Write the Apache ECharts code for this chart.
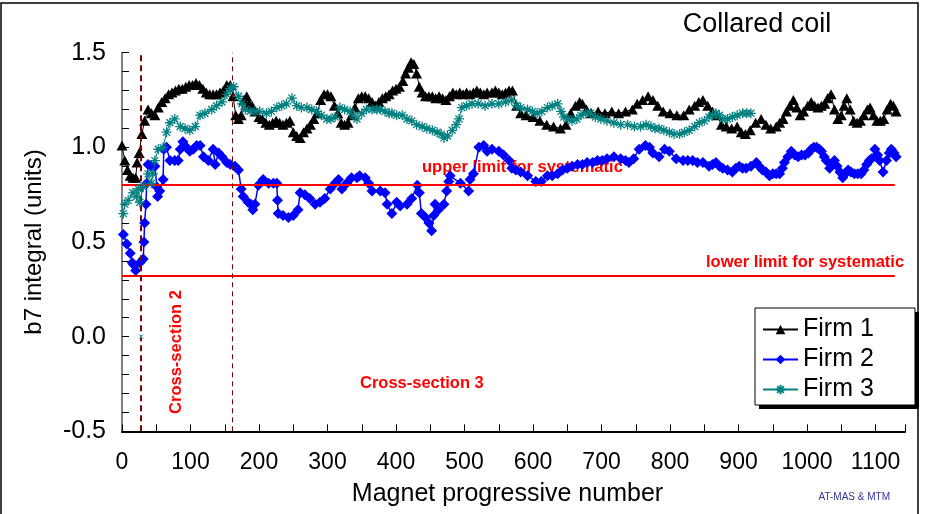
<!DOCTYPE html>
<html><head><meta charset="utf-8">
<script src="https://cdn.jsdelivr.net/npm/echarts@6/dist/echarts.min.js"></script>
<style>html,body{margin:0;padding:0;background:#fff}#c{width:925px;height:514px}</style>
</head><body><div id="c"></div>
<script>
// ---- data (magnet number, b7 integral) ----
const firm1 = [[0,1.01],[4,0.93],[8,0.88],[12,0.85],[16,0.84],[20,0.84],[22,0.92],[25,0.97],[29,1.07],[33,1.14],[38,1.20],[43,1.18],[48,1.17],[53,1.21],[58,1.24],[63,1.26],[68,1.28],[73,1.29],[78,1.30],[83,1.31],[88,1.31],[93,1.32],[98,1.33],[103,1.33],[108,1.34],[113,1.33],[118,1.31],[123,1.29],[128,1.28],[133,1.28],[138,1.28],[143,1.29],[148,1.30],[153,1.33],[158,1.33],[162,1.27],[166,1.17],[170,1.15],[174,1.17],[178,1.25],[182,1.27],[186,1.23],[190,1.22],[195,1.19],[200,1.16],[205,1.15],[210,1.13],[215,1.12],[220,1.13],[225,1.14],[230,1.13],[235,1.12],[240,1.13],[245,1.14],[250,1.08],[255,1.06],[260,1.05],[265,1.08],[270,1.10],[275,1.12],[280,1.15],[285,1.18],[290,1.25],[295,1.28],[300,1.28],[305,1.27],[310,1.22],[315,1.18],[320,1.13],[325,1.12],[330,1.13],[335,1.17],[340,1.21],[345,1.26],[350,1.27],[355,1.27],[360,1.26],[365,1.24],[370,1.22],[375,1.24],[380,1.26],[385,1.27],[390,1.28],[395,1.30],[400,1.31],[405,1.32],[410,1.35],[414,1.39],[418,1.42],[422,1.45],[426,1.44],[430,1.39],[434,1.32],[438,1.29],[443,1.27],[448,1.27],[453,1.27],[458,1.26],[463,1.27],[468,1.26],[473,1.25],[478,1.27],[483,1.29],[488,1.28],[493,1.29],[498,1.28],[503,1.29],[508,1.28],[513,1.29],[518,1.30],[523,1.29],[528,1.28],[533,1.29],[540,1.29],[545,1.30],[550,1.29],[555,1.28],[560,1.29],[565,1.30],[570,1.30],[576,1.22],[582,1.18],[590,1.17],[600,1.16],[610,1.14],[620,1.12],[630,1.11],[640,1.10],[648,1.12],[655,1.18],[662,1.22],[668,1.24],[672,1.23],[678,1.20],[685,1.18],[695,1.19],[705,1.18],[715,1.19],[725,1.18],[735,1.19],[745,1.20],[752,1.23],[760,1.25],[768,1.27],[775,1.25],[782,1.22],[790,1.19],[800,1.18],[810,1.17],[820,1.17],[828,1.20],[836,1.22],[842,1.24],[848,1.25],[855,1.22],[862,1.19],[868,1.17],[875,1.12],[882,1.11],[890,1.10],[898,1.11],[904,1.08],[910,1.07],[917,1.09],[925,1.13],[933,1.15],[940,1.12],[947,1.10],[955,1.11],[960,1.13],[965,1.15],[970,1.19],[975,1.22],[980,1.25],[985,1.21],[990,1.17],[995,1.19],[1001,1.22],[1006,1.24],[1011,1.22],[1016,1.21],[1021,1.22],[1026,1.23],[1030,1.26],[1035,1.28],[1040,1.20],[1045,1.15],[1050,1.17],[1054,1.22],[1058,1.26],[1063,1.20],[1068,1.14],[1073,1.13],[1078,1.14],[1083,1.17],[1088,1.20],[1092,1.21],[1097,1.17],[1102,1.14],[1107,1.14],[1112,1.15],[1117,1.20],[1122,1.23],[1126,1.22],[1130,1.19]];
const firm2 = [[2,0.54],[7,0.49],[12,0.44],[15,0.39],[17,0.38],[20,0.35],[26,0.39],[31,0.41],[32,0.50],[33,0.60],[35,0.70],[36,0.81],[38,0.91],[43,0.90],[48,0.90],[51,0.79],[52,0.74],[55,0.77],[60,0.83],[61,0.99],[65,1.00],[70,0.93],[77,0.93],[82,0.93],[85,0.99],[89,1.03],[94,1.00],[99,0.98],[104,0.99],[109,1.01],[114,1.01],[119,0.95],[126,0.93],[133,0.99],[136,0.91],[141,0.97],[146,0.95],[153,0.92],[158,0.91],[165,0.90],[170,0.88],[174,0.78],[177,0.74],[184,0.71],[188,0.70],[191,0.67],[194,0.70],[199,0.80],[206,0.83],[214,0.81],[221,0.81],[226,0.81],[227,0.72],[228,0.65],[235,0.64],[243,0.63],[250,0.64],[257,0.67],[260,0.76],[267,0.75],[274,0.73],[282,0.70],[289,0.71],[296,0.73],[304,0.78],[311,0.81],[316,0.83],[321,0.78],[328,0.81],[335,0.84],[343,0.84],[347,0.85],[355,0.84],[360,0.81],[365,0.77],[377,0.77],[384,0.76],[387,0.70],[394,0.65],[401,0.71],[406,0.69],[416,0.70],[423,0.73],[431,0.80],[434,0.76],[437,0.65],[443,0.63],[448,0.60],[452,0.56],[455,0.64],[457,0.70],[462,0.67],[470,0.70],[474,0.77],[477,0.82],[479,0.85],[494,0.81],[506,0.77],[508,0.83],[513,0.86],[521,1.00],[528,1.01],[533,0.98],[540,0.99],[550,0.98],[557,0.96],[565,0.93],[569,0.89],[575,0.88],[582,0.87],[592,0.85],[604,0.82],[612,0.82],[621,0.85],[628,0.85],[636,0.86],[643,0.88],[650,0.89],[657,0.90],[665,0.91],[672,0.91],[679,0.92],[687,0.92],[694,0.93],[701,0.93],[708,0.94],[718,0.95],[728,0.94],[735,0.93],[740,0.92],[747,0.94],[755,0.99],[764,1.01],[770,1.00],[775,0.97],[784,0.95],[792,0.99],[799,0.98],[809,0.94],[819,0.93],[826,0.93],[833,0.93],[840,0.92],[848,0.92],[857,0.90],[862,0.91],[867,0.92],[872,0.90],[877,0.89],[884,0.88],[891,0.87],[896,0.89],[901,0.90],[906,0.89],[911,0.89],[918,0.90],[926,0.92],[930,0.90],[935,0.88],[940,0.87],[945,0.85],[950,0.86],[955,0.86],[960,0.86],[964,0.89],[967,0.92],[972,0.95],[977,0.98],[982,0.96],[987,0.95],[992,0.96],[997,0.96],[1002,0.97],[1006,0.99],[1010,1.00],[1014,1.00],[1018,0.99],[1021,0.98],[1025,0.95],[1028,0.93],[1033,0.89],[1036,0.91],[1040,0.93],[1044,0.90],[1048,0.87],[1052,0.84],[1056,0.86],[1060,0.88],[1064,0.87],[1069,0.86],[1074,0.86],[1079,0.86],[1083,0.88],[1087,0.91],[1091,0.93],[1094,0.94],[1099,0.99],[1103,0.96],[1106,0.93],[1111,0.87],[1116,0.93],[1120,0.97],[1123,0.99],[1127,0.97],[1130,0.95]];
const firm3 = [[2,0.65],[4,0.70],[9,0.72],[16,0.76],[21,0.74],[24,0.78],[26,0.71],[31,0.79],[38,0.86],[43,0.81],[45,0.86],[48,0.93],[53,0.99],[60,1.00],[65,1.08],[70,1.13],[77,1.15],[85,1.11],[92,1.10],[99,1.09],[107,1.11],[114,1.17],[121,1.18],[131,1.20],[138,1.22],[146,1.24],[153,1.28],[158,1.31],[163,1.32],[170,1.27],[175,1.23],[180,1.20],[187,1.19],[194,1.19],[201,1.19],[211,1.18],[218,1.19],[226,1.21],[233,1.22],[240,1.23],[248,1.26],[255,1.22],[262,1.21],[270,1.21],[277,1.20],[284,1.19],[291,1.17],[299,1.15],[305,1.15],[311,1.16],[318,1.21],[325,1.20],[333,1.19],[338,1.17],[343,1.15],[350,1.18],[357,1.20],[365,1.20],[372,1.20],[377,1.20],[384,1.19],[390,1.18],[394,1.18],[401,1.17],[409,1.17],[416,1.15],[423,1.14],[430,1.12],[438,1.11],[445,1.10],[453,1.09],[460,1.08],[466,1.07],[470,1.05],[475,1.06],[482,1.09],[488,1.12],[492,1.15],[496,1.21],[503,1.22],[511,1.23],[520,1.23],[530,1.22],[540,1.23],[550,1.23],[560,1.24],[569,1.25],[576,1.22],[582,1.21],[592,1.20],[599,1.19],[606,1.18],[613,1.19],[621,1.21],[628,1.22],[636,1.23],[641,1.19],[645,1.16],[651,1.15],[657,1.14],[664,1.15],[670,1.17],[677,1.18],[684,1.18],[691,1.16],[699,1.15],[708,1.14],[718,1.13],[728,1.12],[738,1.12],[748,1.11],[757,1.11],[765,1.12],[772,1.11],[778,1.10],[784,1.10],[791,1.09],[799,1.08],[806,1.07],[814,1.07],[821,1.08],[828,1.09],[836,1.11],[843,1.13],[850,1.14],[857,1.16],[862,1.17],[867,1.18],[872,1.17],[877,1.15],[884,1.15],[891,1.16],[898,1.17],[906,1.18],[912,1.18],[918,1.18]];
const strayPoint = [[28, 0.0]];
const seriesNames = ['Firm 1', 'Firm 2', 'Firm 3'];
const upperLimit = 0.8;
const lowerLimit = 0.32;
const limitRange = [0, 1128];
const crossSectionBounds = [28, 161];
const xRange = [0, 1143];
const yRange = [-0.5, 1.5];

const FONT = 'Liberation Sans, Arial, sans-serif';
const chart = echarts.init(document.getElementById('c'), null, {renderer: 'canvas'});

const asterisk = 'path://M0,5L10,5M5,0L5,10M1.5,1.5L8.5,8.5M8.5,1.5L1.5,8.5';
const crossPath = 'path://M0,0L10,10M10,0L0,10';

chart.setOption({
  animation: false,
  backgroundColor: '#fff',
  grid: {left: 122, right: 20, top: 52.7, bottom: 82.7, containLabel: false, outerBoundsMode: 'none'},
  xAxis: {
    type: 'value', min: xRange[0], max: xRange[1], interval: 50,
    axisLine: {show: true, onZero: false, lineStyle: {color: '#000', width: 2}},
    axisTick: {show: true, inside: true, length: 7, lineStyle: {color: '#000', width: 1}},
    axisLabel: {formatter: v => (v % 100 === 0 ? String(v) : ''), fontSize: 23, color: '#000', fontFamily: FONT, margin: 20},
    splitLine: {show: false},
    name: 'Magnet progressive number', nameLocation: 'middle', nameGap: 50,
    nameTextStyle: {fontSize: 25, color: '#000', fontFamily: FONT, padding: [0, 12, 0, 0]}
  },
  yAxis: {
    type: 'value', min: yRange[0], max: yRange[1], interval: 0.1,
    axisLine: {show: true, onZero: false, lineStyle: {color: '#808080', width: 2}},
    axisTick: {show: true, inside: true, length: 7, lineStyle: {color: '#000', width: 1}},
    axisLabel: {
      formatter: v => {
        if (Math.abs(v * 2 - Math.round(v * 2)) > 1e-6) return '';
        const r = Math.round(v * 10) / 10;
        return (r === 0 ? 0 : r).toFixed(1);
      },
      fontSize: 25, color: '#000', fontFamily: FONT, margin: 16
    },
    splitLine: {show: false},
    name: 'b7 integral (units)', nameLocation: 'middle', nameGap: 76,
    nameTextStyle: {fontSize: 24, color: '#000', fontFamily: FONT}
  },
  legend: {
    data: seriesNames, orient: 'vertical', left: 762, top: 317,
    itemWidth: 35, itemHeight: 12, itemGap: 5, padding: 0,
    textStyle: {fontSize: 25, color: '#000', fontFamily: FONT},
    selectedMode: false
  },
  series: [
    {
      name: 'Firm 1', type: 'line', data: firm1, symbol: 'triangle', symbolSize: [11, 10],
      lineStyle: {color: '#000', width: 1}, itemStyle: {color: '#000'}, z: 3
    },
    {
      name: 'Firm 2', type: 'line', data: firm2, symbol: 'diamond', symbolSize: 11,
      lineStyle: {color: '#0000FF', width: 1.5}, itemStyle: {color: '#0000FF'}, z: 4
    },
    {
      name: 'Firm 3', type: 'line', data: firm3, symbol: asterisk, symbolSize: 10,
      lineStyle: {color: '#008080', width: 1}, itemStyle: {color: '#008080', borderColor: '#008080', borderWidth: 1.3}, z: 5
    },
    {
      name: 'stray', type: 'line', data: strayPoint, symbol: crossPath, symbolSize: 5,
      lineStyle: {width: 0}, itemStyle: {color: '#33CCCC', borderColor: '#33CCCC', borderWidth: 1}, z: 5
    },
    {
      name: 'limits', type: 'line', data: [], z: 2,
      markLine: {
        silent: true, symbol: ['none', 'none'], label: {show: false}, animation: false,
        data: [
          [{coord: [limitRange[0], upperLimit]}, {coord: [limitRange[1], upperLimit]}],
          [{coord: [limitRange[0], lowerLimit]}, {coord: [limitRange[1], lowerLimit]}]
        ],
        lineStyle: {color: '#FF0000', width: 2, type: 'solid'}
      }
    },
    {
      name: 'sections', type: 'line', data: [], z: 2,
      markLine: {
        silent: true, symbol: ['none', 'none'], label: {show: false}, animation: false,
        data: [
          {xAxis: crossSectionBounds[0], lineStyle: {color: '#800000', width: 2, type: [6, 4]}},
          {xAxis: crossSectionBounds[1], lineStyle: {color: '#800000', width: 1, type: [5, 4]}}
        ]
      }
    }
  ],
  graphic: [
    {type: 'rect', silent: true, z: 0, shape: {x: 1, y: 3, width: 917, height: 530},
     style: {fill: 'none', stroke: '#000', lineWidth: 1.5}},
    {type: 'rect', silent: true, z: 1, shape: {x: 759, y: 312, width: 160, height: 97},
     style: {fill: '#000'}},
    {type: 'rect', silent: true, z: 1, shape: {x: 755, y: 308, width: 160, height: 97},
     style: {fill: '#fff', stroke: '#000', lineWidth: 1}},
    {type: 'text', silent: true, x: 757, y: 25,
     style: {text: 'Collared coil', fill: '#000', font: '27px ' + FONT, align: 'center', verticalAlign: 'middle'}},
    {type: 'text', silent: true, x: 422, y: 167,
     style: {text: 'upper limit for systematic', fill: '#FF0000', font: 'bold 16.5px ' + FONT, align: 'left', verticalAlign: 'middle'}},
    {type: 'text', silent: true, x: 706, y: 262,
     style: {text: 'lower limit for systematic', fill: '#FF0000', font: 'bold 16.5px ' + FONT, align: 'left', verticalAlign: 'middle'}},
    {type: 'text', silent: true, x: 360, y: 383,
     style: {text: 'Cross-section 3', fill: '#FF0000', font: 'bold 16.5px ' + FONT, align: 'left', verticalAlign: 'middle'}},
    {type: 'text', silent: true, x: 176, y: 352, rotation: Math.PI / 2,
     style: {text: 'Cross-section 2', fill: '#FF0000', font: 'bold 16.5px ' + FONT, align: 'center', verticalAlign: 'middle'}},
    {type: 'text', silent: true, x: 890, y: 497,
     style: {text: 'AT-MAS & MTM', fill: '#333399', font: '10px ' + FONT, align: 'right', verticalAlign: 'middle'}}
  ]
});
</script>
</body></html>
